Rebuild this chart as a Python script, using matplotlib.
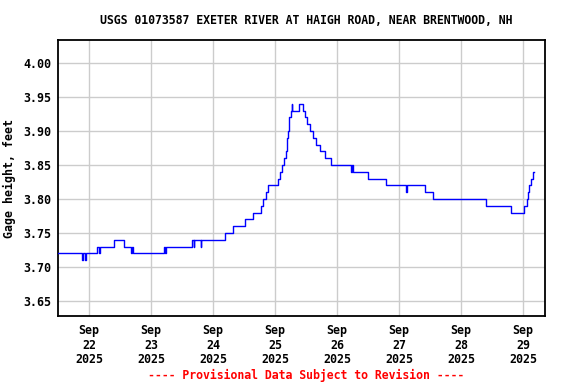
import matplotlib
matplotlib.use("Agg")
import matplotlib.pyplot as plt
import pandas as pd

title = "USGS 01073587 EXETER RIVER AT HAIGH ROAD, NEAR BRENTWOOD, NH"
ylabel = "Gage height, feet"
footer = "---- Provisional Data Subject to Revision ----"

times = [
    "2025-09-21 12:00", "2025-09-21 21:15", "2025-09-21 21:30", "2025-09-21 22:30",
    "2025-09-21 22:45", "2025-09-22 03:00", "2025-09-22 04:00", "2025-09-22 04:15",
    "2025-09-22 09:45", "2025-09-22 13:30", "2025-09-22 16:15", "2025-09-22 16:30",
    "2025-09-22 17:00", "2025-09-23 05:00", "2025-09-23 05:30", "2025-09-23 05:45",
    "2025-09-23 15:45", "2025-09-23 16:30", "2025-09-23 16:45", "2025-09-23 19:15",
    "2025-09-23 19:30", "2025-09-24 04:45", "2025-09-24 07:45", "2025-09-24 12:30",
    "2025-09-24 15:30", "2025-09-24 18:30", "2025-09-24 19:15", "2025-09-24 20:30",
    "2025-09-24 21:15", "2025-09-25 01:15", "2025-09-25 02:00", "2025-09-25 02:45",
    "2025-09-25 03:30", "2025-09-25 04:15", "2025-09-25 04:30", "2025-09-25 04:45",
    "2025-09-25 05:00", "2025-09-25 05:15", "2025-09-25 05:30", "2025-09-25 06:00",
    "2025-09-25 06:30", "2025-09-25 06:45", "2025-09-25 09:15", "2025-09-25 10:45",
    "2025-09-25 11:45", "2025-09-25 12:30", "2025-09-25 13:30", "2025-09-25 14:45",
    "2025-09-25 15:45", "2025-09-25 17:30", "2025-09-25 19:15", "2025-09-25 21:45",
    "2025-09-26 05:30", "2025-09-26 05:45", "2025-09-26 06:15", "2025-09-26 12:00",
    "2025-09-26 19:00", "2025-09-27 02:45", "2025-09-27 03:15", "2025-09-27 10:00",
    "2025-09-27 13:15", "2025-09-28 09:45", "2025-09-28 19:15", "2025-09-29 00:15",
    "2025-09-29 01:30", "2025-09-29 02:00", "2025-09-29 02:30", "2025-09-29 03:00",
    "2025-09-29 04:00", "2025-09-29 04:15",
]
values = [
    3.72, 3.71, 3.72, 3.71,
    3.72, 3.73, 3.72, 3.73,
    3.74, 3.73, 3.72, 3.73,
    3.72, 3.73, 3.72, 3.73,
    3.74, 3.73, 3.74, 3.73,
    3.74, 3.75, 3.76, 3.77,
    3.78, 3.79, 3.80, 3.81,
    3.82, 3.83, 3.84, 3.85,
    3.86, 3.87, 3.88, 3.89,
    3.90, 3.91, 3.92, 3.93,
    3.94, 3.93, 3.94, 3.93,
    3.92, 3.91, 3.90, 3.89,
    3.88, 3.87, 3.86, 3.85,
    3.84, 3.85, 3.84, 3.83,
    3.82, 3.81, 3.82, 3.81,
    3.80, 3.79, 3.78, 3.79,
    3.80, 3.81, 3.82, 3.83,
    3.84, 3.84,
]

yticks = [3.65, 3.70, 3.75, 3.80, 3.85, 3.90, 3.95, 4.00]
xtick_dates = ["2025-09-22", "2025-09-23", "2025-09-24", "2025-09-25",
               "2025-09-26", "2025-09-27", "2025-09-28", "2025-09-29"]
xlim = ("2025-09-21 12:00", "2025-09-29 08:30")
ylim = (3.628, 4.034)

font = "DejaVu Sans Mono"
fs = 8.4

fig = plt.figure(figsize=(5.76, 3.84), dpi=100)
ax = fig.add_axes([58/576, 1-316/384, (545-58)/576, (316-40)/384])

t = pd.to_datetime(times)
ax.plot(t, values, drawstyle="steps-post", color="#0000ff", lw=1.0, zorder=3)

ax.set_xlim(pd.to_datetime(xlim[0]), pd.to_datetime(xlim[1]))
ax.set_ylim(*ylim)

xt = pd.to_datetime(xtick_dates)
ax.set_xticks(xt)
ax.set_xticklabels([d.strftime("%b\n%d\n%Y") for d in xt],
                   fontfamily=font, fontweight="bold", fontsize=fs, linespacing=1.15)
ax.set_yticks(yticks)
ax.set_yticklabels([f"{v:.2f}" for v in yticks],
                   fontfamily=font, fontweight="bold", fontsize=fs)
ax.tick_params(axis="both", length=0)
ax.tick_params(axis="x", pad=6)
ax.tick_params(axis="y", pad=5)

ax.grid(True, color="#cccccc", lw=1.0, zorder=0)
ax.set_axisbelow(True)
for s in ax.spines.values():
    s.set_linewidth(1.3)
    s.set_color("black")

ax.set_ylabel(ylabel, fontfamily=font, fontweight="bold", fontsize=fs, labelpad=5)

fig.text(306/576, 1-20/384, title, ha="center", va="center",
         fontfamily=font, fontweight="bold", fontsize=8.3)
fig.text(306/576, 1-375/384, footer, ha="center", va="center",
         fontfamily=font, fontweight="bold", fontsize=8.3, color="#ff0000")

fig.savefig("out.png", dpi=100, facecolor="white")
